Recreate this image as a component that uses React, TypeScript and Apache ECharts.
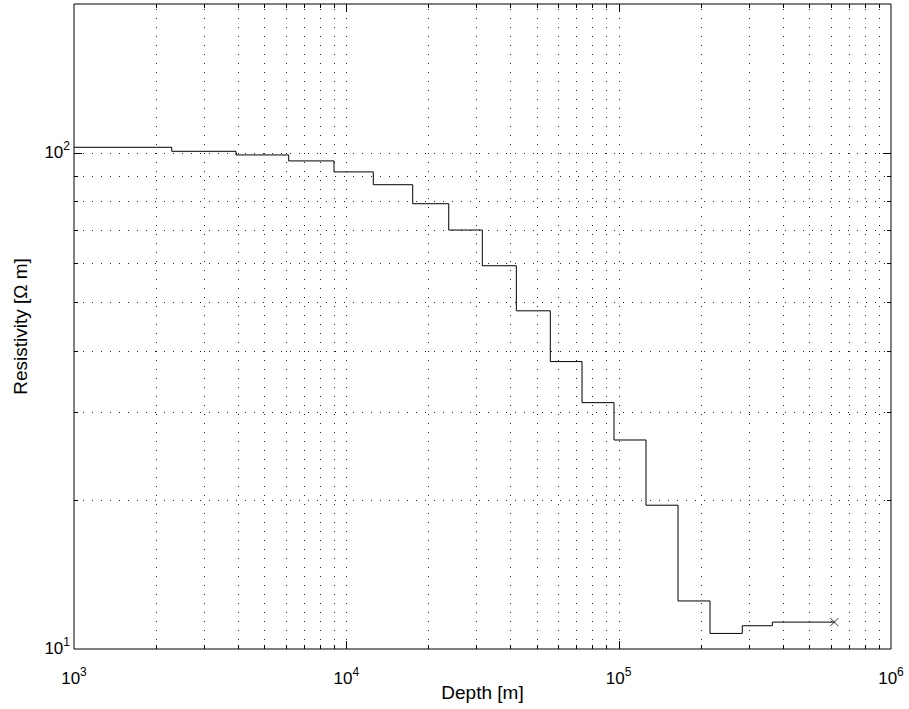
import React, { useEffect, useRef } from "react";
import * as echarts from "echarts";

// Layer tops (depth, m) and resistivity (Ohm m) of the step model
const depthTops = [
  1000, 2285, 3934, 6143, 9010, 12563, 17527, 23770, 31570, 42100, 56100,
  73360, 96140, 126000, 165200, 216500, 284400, 366600,
];
const resistivity = [
  102.8, 100.9, 99.2, 96.5, 91.7, 86.4, 79.1, 70.0, 59.3, 48.1, 38.0, 31.4,
  26.4, 19.5, 12.5, 10.75, 11.14, 11.33,
];
const lastDepth = 619300;

// Axis ranges and grid positions
const X_MIN = 1000;
const X_MAX = 1000000;
const Y_MIN = 10;
const Y_MAX = 200;
const xGridValues = [
  2000, 3000, 4000, 5000, 6000, 7000, 8000, 9000,
  10000, 20000, 30000, 40000, 50000, 60000, 70000, 80000, 90000,
  100000, 200000, 300000, 400000, 500000, 600000, 700000, 800000, 900000,
];
const yGridValues = [20, 30, 40, 50, 60, 70, 80, 90, 100];

const FONT = "'Liberation Sans', Arial, Helvetica, sans-serif";

function isPow10(v: number) {
  const e = Math.log10(v);
  return Math.abs(e - Math.round(e)) < 1e-6;
}

function powLabel(v: number) {
  if (!isPow10(v)) return "";
  return `{b|10}{e|${Math.round(Math.log10(v))}}`;
}

const rich = {
  b: { fontSize: 17, fontFamily: FONT, color: "#000", verticalAlign: "bottom" },
  e: { fontSize: 12, fontFamily: FONT, color: "#000", padding: [0, 0, 9, 0], verticalAlign: "top" },
};

const DASH = [1, 8];
const GRID_COLOR = "#222";

export default function App() {
  const ref = useRef<HTMLDivElement>(null);

  useEffect(() => {
    if (!ref.current) return;
    const chart = echarts.init(ref.current, undefined, { renderer: "svg" });

    const stepData = depthTops.map((d, i) => [d, resistivity[i]]);
    stepData.push([lastDepth, resistivity[resistivity.length - 1]]);

    const option: any = {
      animation: false,
      backgroundColor: "#fff",
      grid: {
        left: 74,
        right: 18,
        top: 4,
        bottom: 60,
        show: true,
        borderColor: "#000",
        borderWidth: 1,
        backgroundColor: "transparent",
        containLabel: false,
        outerBoundsMode: "none",
      },
      xAxis: {
        type: "log",
        logBase: 10,
        min: X_MIN,
        max: X_MAX,
        name: "Depth [m]",
        nameLocation: "middle",
        nameGap: 34,
        nameMoveOverlap: false,
        nameTextStyle: { fontSize: 19, fontFamily: FONT, color: "#000" },
        axisLine: { show: false },
        axisTick: { show: false },
        splitLine: { show: false },
        minorTick: { show: false },
        axisLabel: {
          show: true,
          showMinLabel: true,
          showMaxLabel: true,
          hideOverlap: false,
          margin: 17,
          formatter: powLabel,
          rich,
        },
      },
      yAxis: {
        type: "log",
        logBase: 10,
        min: Y_MIN,
        max: Y_MAX,
        name: "Resistivity [\u03A9 m]",
        nameLocation: "middle",
        nameRotate: 90,
        nameGap: 44,
        nameMoveOverlap: false,
        nameTextStyle: { fontSize: 19, fontFamily: FONT, color: "#000" },
        axisLine: { show: false },
        axisTick: { show: false },
        splitLine: { show: false },
        axisLabel: {
          show: true,
          showMinLabel: true,
          showMaxLabel: true,
          hideOverlap: false,
          margin: 4,
          padding: [0, 0, 5, 0],
          formatter: powLabel,
          rich,
        },
      },
      series: [
        {
          type: "custom",
          name: "xgrid",
          z: 1,
          silent: true,
          coordinateSystem: "cartesian2d",
          data: xGridValues.map((v) => [v, Y_MIN]),
          renderItem: (params: any, api: any) => {
            const v = api.value(0);
            const cs = params.coordSys;
            const px = Math.round(api.coord([v, Y_MIN])[0]) + 0.5;
            const len = isPow10(v) ? 8 : 4;
            const top = cs.y;
            const bot = cs.y + cs.height;
            return {
              type: "group",
              children: [
                {
                  type: "line",
                  shape: { x1: px, y1: bot, x2: px, y2: top },
                  style: { stroke: GRID_COLOR, lineWidth: 1, lineDash: DASH },
                },
                {
                  type: "line",
                  shape: { x1: px, y1: bot, x2: px, y2: bot - len },
                  style: { stroke: "#000", lineWidth: 1 },
                },
                {
                  type: "line",
                  shape: { x1: px, y1: top, x2: px, y2: top + len },
                  style: { stroke: "#000", lineWidth: 1 },
                },
              ],
            };
          },
        },
        {
          type: "custom",
          name: "ygrid",
          z: 1,
          silent: true,
          coordinateSystem: "cartesian2d",
          data: yGridValues.map((v) => [X_MIN, v]),
          renderItem: (params: any, api: any) => {
            const v = api.value(1);
            const cs = params.coordSys;
            const py = Math.round(api.coord([X_MIN, v])[1]) + 0.5;
            const len = isPow10(v) ? 8 : 4;
            const left = cs.x;
            const right = cs.x + cs.width;
            return {
              type: "group",
              children: [
                {
                  type: "line",
                  shape: { x1: left, y1: py, x2: right, y2: py },
                  style: { stroke: GRID_COLOR, lineWidth: 1, lineDash: DASH },
                },
                {
                  type: "line",
                  shape: { x1: left, y1: py, x2: left + len, y2: py },
                  style: { stroke: "#000", lineWidth: 1 },
                },
                {
                  type: "line",
                  shape: { x1: right, y1: py, x2: right - len, y2: py },
                  style: { stroke: "#000", lineWidth: 1 },
                },
              ],
            };
          },
        },
        {
          type: "line",
          name: "model",
          z: 3,
          step: "end",
          data: stepData,
          showSymbol: false,
          symbol: "none",
          lineStyle: { color: "#000", width: 1 },
          silent: true,
        },
        {
          type: "scatter",
          name: "end",
          z: 4,
          data: [[lastDepth, resistivity[resistivity.length - 1]]],
          symbol: "path://M0,0L10,10M10,0L0,10",
          symbolSize: 8,
          itemStyle: { color: "none", borderColor: "#000", borderWidth: 1 },
          silent: true,
        },
      ],
    };

    chart.setOption(option);
    return () => chart.dispose();
  }, []);

  return (
    <div
      ref={ref}
      style={{ position: "fixed", left: 0, top: 0, width: 909, height: 709, background: "#fff" }}
    />
  );
}
